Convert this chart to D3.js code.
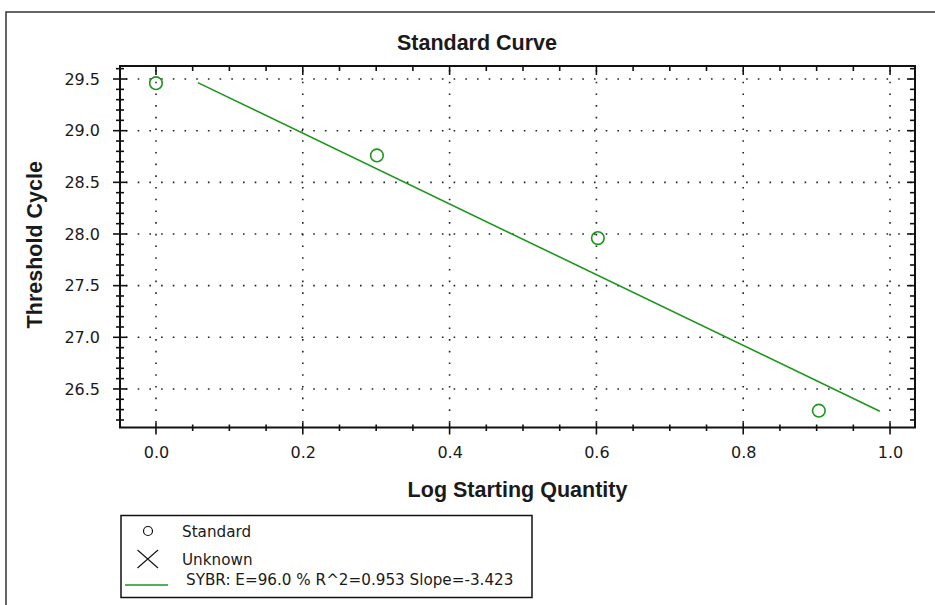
<!DOCTYPE html>
<html>
<head>
<meta charset="utf-8">
<script src="https://cdn.jsdelivr.net/npm/d3@7"></script>
<style>
  html, body { margin: 0; padding: 0; background: #ffffff; }
  svg { display: block; }
  text { fill: #1a1a1a; }
  .lbl { font-family: "DejaVu Sans", Verdana, sans-serif; }
  .ttl { font-family: "Liberation Sans", Arial, sans-serif; font-weight: bold; }
</style>
</head>
<body>
<svg id="chart" width="935" height="605"></svg>
<script>
// Standard points: log starting quantity vs threshold cycle
const logQuantity = [0.000, 0.301, 0.602, 0.903];
const thresholdCycle = [29.46, 28.76, 27.96, 26.29];

// Regression fit reported in the legend
const fitSlope = -3.423;
const fitIntercept = 29.66;
const fitRange = [0.057, 0.986];

const xTicks = [0.0, 0.2, 0.4, 0.6, 0.8, 1.0];
const yTicks = [26.5, 27.0, 27.5, 28.0, 28.5, 29.0, 29.5];

const legendLabels = ["Standard", "Unknown", "SYBR: E=96.0 % R^2=0.953 Slope=-3.423"];

const green = "#1c961c";
const svg = d3.select("#chart");

const plot = { left: 120, right: 915, top: 66, bottom: 427.5 };

const x = d3.scaleLinear().domain([-0.049, 1.034]).range([plot.left, plot.right]);
const y = d3.scaleLinear().domain([26.127, 29.626]).range([plot.bottom, plot.top]);

// outer frame (runs past the right edge of the view)
svg.append("rect")
  .attr("x", 6).attr("y", 12).attr("width", 960).attr("height", 640)
  .attr("fill", "none").attr("stroke", "#333").attr("stroke-width", 1.5);

// title
svg.append("text").attr("class", "ttl")
  .attr("x", 477).attr("y", 49.5)
  .attr("text-anchor", "middle")
  .attr("font-size", 21.5)
  .text("Standard Curve");

// dotted grid
const grid = svg.append("g").attr("stroke", "#222").attr("stroke-width", 1.6)
  .attr("stroke-dasharray", "1.6,10.1");
grid.selectAll("line.h").data(yTicks).join("line").attr("class", "h")
  .attr("x1", plot.left + 6).attr("x2", plot.right)
  .attr("y1", d => y(d)).attr("y2", d => y(d));
grid.selectAll("line.v").data(xTicks).join("line").attr("class", "v")
  .attr("x1", d => x(d)).attr("x2", d => x(d))
  .attr("y1", plot.top + 4).attr("y2", plot.bottom);

// minor tick values
const xMinorVals = d3.ticks(-0.05, 1.03, 22).filter(v => v > x.domain()[0] && v < x.domain()[1]);
const yMinorVals = d3.ticks(26.2, 29.6, 34).filter(v => v > y.domain()[0] && v < y.domain()[1]);
const notMajor = (vals, majors) => vals.filter(v => !majors.some(t => Math.abs(t - v) < 1e-6));

// bottom axis labels
const bottomMajor = d3.axisBottom(x).tickValues(xTicks).tickSize(0).tickFormat(d3.format(".1f")).tickPadding(19);
const gB = svg.append("g").attr("transform", `translate(0,${plot.bottom})`).call(bottomMajor);
gB.select(".domain").remove();
gB.selectAll("text").attr("class", "lbl").attr("font-size", 16).attr("font-family", null).attr("fill", "#1a1a1a");

// left axis labels
const leftMajor = d3.axisLeft(y).tickValues(yTicks).tickSize(0).tickFormat(d3.format(".1f")).tickPadding(20);
const gL = svg.append("g").attr("transform", `translate(${plot.left},0)`).call(leftMajor);
gL.select(".domain").remove();
gL.selectAll("text").attr("class", "lbl").attr("font-size", 16).attr("font-family", null).attr("fill", "#1a1a1a");

// tick marks
const ticks = svg.append("g").attr("stroke", "#111").attr("stroke-width", 1.6);
ticks.selectAll("line.bM").data(xTicks).join("line").attr("class", "bM")
  .attr("x1", d => x(d)).attr("x2", d => x(d)).attr("y1", plot.bottom - 5).attr("y2", plot.bottom + 7);
ticks.selectAll("line.bm").data(notMajor(xMinorVals, xTicks)).join("line").attr("class", "bm")
  .attr("x1", d => x(d)).attr("x2", d => x(d)).attr("y1", plot.bottom - 3).attr("y2", plot.bottom + 3.5);
ticks.selectAll("line.tM").data(xTicks).join("line").attr("class", "tM")
  .attr("x1", d => x(d)).attr("x2", d => x(d)).attr("y1", plot.top).attr("y2", plot.top + 9);
ticks.selectAll("line.tm").data(notMajor(xMinorVals, xTicks)).join("line").attr("class", "tm")
  .attr("x1", d => x(d)).attr("x2", d => x(d)).attr("y1", plot.top).attr("y2", plot.top + 5);
ticks.selectAll("line.lM").data(yTicks).join("line").attr("class", "lM")
  .attr("y1", d => y(d)).attr("y2", d => y(d)).attr("x1", plot.left - 7).attr("x2", plot.left + 7);
ticks.selectAll("line.lm").data(notMajor(yMinorVals, yTicks)).join("line").attr("class", "lm")
  .attr("y1", d => y(d)).attr("y2", d => y(d)).attr("x1", plot.left - 4).attr("x2", plot.left + 4);
ticks.selectAll("line.rM").data(yTicks).join("line").attr("class", "rM")
  .attr("y1", d => y(d)).attr("y2", d => y(d)).attr("x1", plot.right - 8).attr("x2", plot.right);
ticks.selectAll("line.rm").data(notMajor(yMinorVals, yTicks)).join("line").attr("class", "rm")
  .attr("y1", d => y(d)).attr("y2", d => y(d)).attr("x1", plot.right - 5).attr("x2", plot.right);

// plot frame
svg.append("rect")
  .attr("x", plot.left).attr("y", plot.top)
  .attr("width", plot.right - plot.left).attr("height", plot.bottom - plot.top)
  .attr("fill", "none").attr("stroke", "#111").attr("stroke-width", 2);

// regression line
svg.append("line")
  .attr("x1", x(fitRange[0])).attr("y1", y(fitIntercept + fitSlope * fitRange[0]))
  .attr("x2", x(fitRange[1])).attr("y2", y(fitIntercept + fitSlope * fitRange[1]))
  .attr("stroke", green).attr("stroke-width", 1.6);

// standard points
svg.append("g").selectAll("circle")
  .data(logQuantity.map((q, i) => [q, thresholdCycle[i]]))
  .join("circle")
  .attr("cx", d => x(d[0])).attr("cy", d => y(d[1])).attr("r", 6.3)
  .attr("fill", "none").attr("stroke", green).attr("stroke-width", 1.6);

// axis titles
svg.append("text").attr("class", "ttl")
  .attr("x", (plot.left + plot.right) / 2).attr("y", 497)
  .attr("text-anchor", "middle")
  .attr("font-size", 21.5)
  .text("Log Starting Quantity");
svg.append("text").attr("class", "ttl")
  .attr("transform", `translate(41.5,${(plot.top + plot.bottom) / 2 - 2}) rotate(-90)`)
  .attr("text-anchor", "middle")
  .attr("font-size", 21.5)
  .text("Threshold Cycle");

// legend
const lg = svg.append("g");
lg.append("rect").attr("x", 121).attr("y", 515.5).attr("width", 411).attr("height", 82)
  .attr("fill", "#fff").attr("stroke", "#111").attr("stroke-width", 1.5);
const symbolY = [531, 559, 585];
const textBase = [536.5, 565, 585];
lg.append("circle").attr("cx", 148).attr("cy", symbolY[0]).attr("r", 4.5)
  .attr("fill", "none").attr("stroke", "#111").attr("stroke-width", 1.2);
lg.append("path").attr("d", `M137.5,${symbolY[1] - 9}L158,${symbolY[1] + 9}M158,${symbolY[1] - 9}L137.5,${symbolY[1] + 9}`)
  .attr("stroke", "#111").attr("stroke-width", 1.1);
lg.append("line").attr("x1", 125).attr("x2", 168).attr("y1", symbolY[2]).attr("y2", symbolY[2])
  .attr("stroke", green).attr("stroke-width", 1.6);
lg.selectAll("text").data(legendLabels).join("text").attr("class", "lbl")
  .attr("x", (d, i) => i < 2 ? 182 : 186)
  .attr("y", (d, i) => textBase[i])
  .attr("font-size", 15.2)
  .text(d => d);
</script>
</body>
</html>
